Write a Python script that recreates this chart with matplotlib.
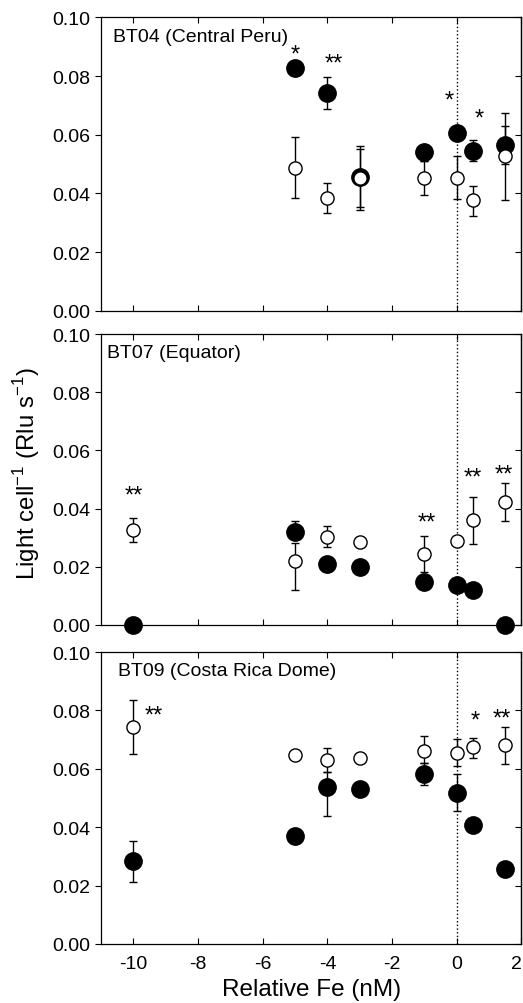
import numpy as np
import matplotlib
matplotlib.use('Agg')
import matplotlib.pyplot as plt

plt.rcParams['font.family'] = ['Liberation Sans', 'DejaVu Sans']
plt.rcParams['axes.unicode_minus'] = False
plt.rcParams['mathtext.fontset'] = 'custom'
plt.rcParams['mathtext.rm'] = 'Liberation Sans'

# Relative Fe positions
fe = [-10, -5, -4, -3, -1, 0, 0.5, 1.5]

# BT04 (Central Peru) - no data at -10
bt04_fill = [np.nan, 0.0827, 0.0742, 0.0455, 0.0540, 0.0605, 0.0545, 0.0566]
bt04_fill_lo = [np.nan, np.nan, 0.0688, 0.0352, 0.0510, np.nan, 0.0511, 0.0500]
bt04_fill_hi = [np.nan, np.nan, 0.0798, 0.0553, np.nan, np.nan, 0.0582, 0.0631]
bt04_open = [np.nan, 0.0486, 0.0383, 0.0452, 0.0452, 0.0452, 0.0377, 0.0527]
bt04_open_lo = [np.nan, 0.0383, 0.0333, 0.0344, 0.0395, 0.0381, 0.0324, 0.0377]
bt04_open_hi = [np.nan, 0.0591, 0.0434, 0.0563, 0.0509, 0.0528, 0.0426, 0.0673]
bt04_star_x = [-5, -3.8, -0.24, 0.69]
bt04_star_y = [0.0899, 0.0869, 0.0744, 0.0682]
bt04_star_txt = ['*', '**', '*', '*']

# BT07 (Equator)
bt07_fill = [0.0, 0.0321, 0.0210, 0.0198, 0.0147, 0.0139, 0.0120, 0.0]
bt07_fill_lo = [np.nan] * 8
bt07_fill_hi = [np.nan, 0.0359, np.nan, np.nan, np.nan, np.nan, np.nan, np.nan]
bt07_open = [0.0328, 0.0219, 0.0304, 0.0284, 0.0244, 0.0288, 0.0362, 0.0424]
bt07_open_lo = [0.0286, 0.0121, 0.0269, np.nan, 0.0183, np.nan, 0.0278, 0.0359]
bt07_open_hi = [0.0369, 0.0282, 0.0341, np.nan, 0.0305, np.nan, 0.0441, 0.0487]
bt07_star_x = [-9.98, -0.93, 0.49, 1.45]
bt07_star_y = [0.0473, 0.0379, 0.0534, 0.0545]
bt07_star_txt = ['**', '**', '**', '**']

# BT09 (Costa Rica Dome)
bt09_fill = [0.0283, 0.0371, 0.0536, 0.0530, 0.0582, 0.0518, 0.0406, 0.0257]
bt09_fill_lo = [0.0211, np.nan, 0.0437, np.nan, 0.0543, 0.0454, np.nan, np.nan]
bt09_fill_hi = [0.0352, np.nan, 0.0589, np.nan, 0.0620, 0.0583, np.nan, np.nan]
bt09_open = [0.0743, 0.0648, 0.0631, 0.0637, 0.0660, 0.0654, 0.0673, 0.0680]
bt09_open_lo = [0.0650, np.nan, 0.0589, np.nan, 0.0620, 0.0608, 0.0637, 0.0617]
bt09_open_hi = [0.0834, np.nan, 0.0672, np.nan, 0.0714, 0.0703, 0.0707, 0.0742]
bt09_star_x = [-9.38, 0.57, 1.40]
bt09_star_y = [0.0809, 0.0794, 0.0800]
bt09_star_txt = ['**', '*', '**']

panels = [
    ('BT04 (Central Peru)', bt04_fill, bt04_fill_lo, bt04_fill_hi,
     bt04_open, bt04_open_lo, bt04_open_hi,
     bt04_star_x, bt04_star_y, bt04_star_txt),
    ('BT07 (Equator)', bt07_fill, bt07_fill_lo, bt07_fill_hi,
     bt07_open, bt07_open_lo, bt07_open_hi,
     bt07_star_x, bt07_star_y, bt07_star_txt),
    ('BT09 (Costa Rica Dome)', bt09_fill, bt09_fill_lo, bt09_fill_hi,
     bt09_open, bt09_open_lo, bt09_open_hi,
     bt09_star_x, bt09_star_y, bt09_star_txt),
]

# axes boxes in figure fractions [bottom, top], and label x in axes fraction
boxes = [(0.6896, 0.9816), (0.3765, 0.6663), (0.0588, 0.3496)]
label_x = [0.028, 0.015, 0.04]
left, right = 0.1931, 0.997

fig = plt.figure(figsize=(5.23, 10.04), dpi=100)
x = np.array(fe, dtype=float)


def draw_err(ax, xs, y, lo, hi):
    y = np.array(y, dtype=float)
    lo = np.array(lo, dtype=float)
    hi = np.array(hi, dtype=float)
    for xi, yi, l, h in zip(xs, y, lo, hi):
        if not np.isnan(h):
            ax.errorbar([xi], [yi], yerr=[[0], [h - yi]], fmt='none',
                        ecolor='black', elinewidth=1, capsize=3, zorder=2)
        if not np.isnan(l):
            ax.errorbar([xi], [yi], yerr=[[yi - l], [0]], fmt='none',
                        ecolor='black', elinewidth=1, capsize=3, zorder=2)


for i, (name, yf, flo, fhi, yo, olo, ohi, sx, sy, st) in enumerate(panels):
    b, t = boxes[i]
    ax = fig.add_axes([left, b, right - left, t - b])
    draw_err(ax, x, yf, flo, fhi)
    draw_err(ax, x, yo, olo, ohi)
    ax.plot(x, yf, 'o', color='black', markersize=12.5, linestyle='none',
            zorder=3, clip_on=False)
    ax.plot(x, yo, 'o', markerfacecolor='white', markeredgecolor='black',
            markeredgewidth=1.0, markersize=9.5, linestyle='none', zorder=4,
            clip_on=False)

    # significance stars (xy is the visual centre of the asterisks)
    for xs_, ys_, s in zip(sx, sy, st):
        ax.annotate(s, (xs_, ys_), xytext=(0, -10), textcoords='offset points',
                    ha='center', va='baseline', fontsize=17)

    ax.axvline(0, color='black', linestyle=':', linewidth=1, zorder=1)
    ax.text(label_x[i], 0.965, name, transform=ax.transAxes, ha='left',
            va='top', fontsize=14)

    ax.set_xlim(-11, 2)
    ax.set_ylim(0, 0.10)
    ax.set_xticks([-10, -8, -6, -4, -2, 0, 2])
    ax.set_yticks([0, 0.02, 0.04, 0.06, 0.08, 0.10])
    ax.set_yticklabels(['0.00', '0.02', '0.04', '0.06', '0.08', '0.10'])
    ax.tick_params(axis='x', direction='in', top=True, length=4,
                   labelsize=14, pad=8)
    ax.tick_params(axis='y', direction='out', right=False, length=4,
                   labelsize=14)
    sec = ax.secondary_yaxis('right')
    sec.set_yticks([0, 0.02, 0.04, 0.06, 0.08, 0.10])
    sec.tick_params(direction='in', length=4, labelright=False)
    for sp in list(ax.spines.values()) + list(sec.spines.values()):
        sp.set_linewidth(0.9)
    if i < 2:
        ax.set_xticklabels([])
    else:
        ax.set_xlabel('Relative Fe (nM)', fontsize=17.5, labelpad=4)
        # keep the last label ("2") inside the figure
        ax.get_xticklabels()[-1].set_horizontalalignment('right')

fig.text(0.05, 0.528,
         r'Light cell$^{\mathregular{-1}}$ (Rlu s$^{\mathregular{-1}}$)',
         rotation=90, ha='center', va='center', fontsize=17.3)

fig.savefig('out.png', dpi=100)
